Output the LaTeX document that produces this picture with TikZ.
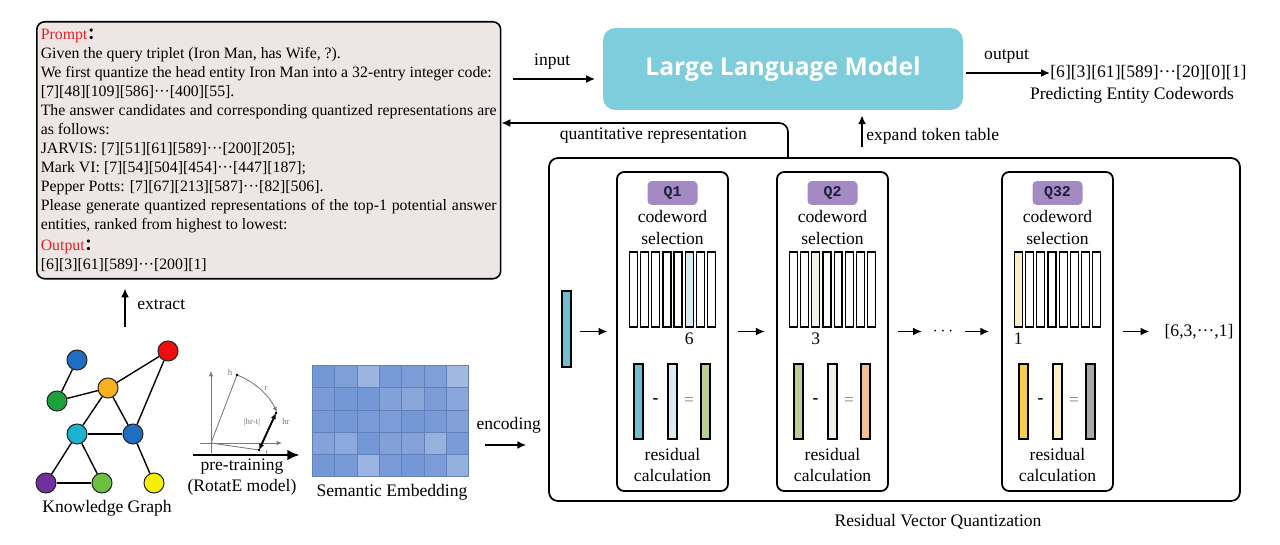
\documentclass[tikz,border=0pt]{standalone}
\usepackage{fontspec}
\setmainfont{Liberation Serif}
\setmonofont{Liberation Mono}
\newfontfamily\llmfont{Open Sans}
\newfontfamily\cjk{Noto Sans CJK SC}
\usetikzlibrary{arrows.meta, positioning, calc}

\definecolor{promptfill}{HTML}{EEE6E4}
\definecolor{promptred}{HTML}{E42228}
\definecolor{llmcyan}{HTML}{7ECDDC}
\definecolor{tagpurple}{HTML}{A48AC3}
\definecolor{tagtext}{HTML}{1E1E3C}
\definecolor{rvteal}{HTML}{6EBFD0}
\definecolor{rvlblue}{HTML}{D4ECF2}
\definecolor{rvgreen}{HTML}{B8CE95}
\definecolor{rvlgreen}{HTML}{EDF2E4}
\definecolor{rvorange}{HTML}{F4BE93}
\definecolor{rvyellow}{HTML}{F5CF4C}
\definecolor{rvlyellow}{HTML}{FBEFC8}
\definecolor{rvgray}{HTML}{A9A9A9}
\definecolor{embblue}{HTML}{7497D5}
\definecolor{embgrid}{HTML}{6381B8}
\definecolor{kgblue}{HTML}{1F6EC2}
\definecolor{kgred}{HTML}{F00D0D}
\definecolor{kgorange}{HTML}{F9B122}
\definecolor{kggreen}{HTML}{1CA23B}
\definecolor{kgcyan}{HTML}{1CB3D1}
\definecolor{kgpurple}{HTML}{7030A0}
\definecolor{kglgreen}{HTML}{6CC040}
\definecolor{kgyellow}{HTML}{F6F000}
\definecolor{rgray}{HTML}{7A7A7A}

\begin{document}
\begin{tikzpicture}[x=0.02cm, y=-0.02cm,
    lbl/.style={font=\fontsize{10}{12}\selectfont, inner sep=0pt},
    arr/.style={-{Latex[length=5pt,width=4.5pt]}, line width=0.9pt},
    promptbox/.style={draw, line width=0.9pt, rounded corners=4.5pt, fill=promptfill,
      text width=9.12cm, inner xsep=0.08cm, minimum height=5.14cm, align=justify,
      font=\fontsize{9}{10.77}\selectfont},
    llmbox/.style={fill=llmcyan, rounded corners=7pt, minimum width=7.2cm, minimum height=1.64cm,
      text=white, font=\llmfont\bfseries\fontsize{14}{16}\selectfont},
    kgnode/.style={circle, draw=black!85, line width=0.6pt, minimum size=0.4cm, inner sep=0pt},
    qbox/.style={draw, line width=1pt, rounded corners=4pt, minimum width=2.22cm, minimum height=6.38cm},
    qtag/.style={fill=tagpurple, rounded corners=2.5pt, minimum width=1cm, minimum height=0.48cm,
      inner sep=0pt, text=tagtext, font=\ttfamily\bfseries\fontsize{8.5}{10}\selectfont},
    codebar/.style={draw, line width=0.7pt, fill=white, minimum width=0.16cm, minimum height=1.5cm, inner sep=0pt},
    resbar/.style={draw, line width=0.7pt, minimum width=0.18cm, minimum height=1.5cm, inner sep=0pt},
    punkt/.style={circle, fill, inner sep=0.6pt},
    rlbl/.style={font=\fontsize{5}{6}\selectfont, text=rgray, inner sep=0pt},
  ]
  \useasboundingbox (0,0) rectangle (1280,544);

  % prompt
  \node[promptbox, anchor=north west] (prompt) at (36,21) {%
    {\color{promptred}Prompt}{\cjk\bfseries ：}\\
    Given the query triplet (Iron Man, has Wife, ?).\\
    We first quantize the head entity Iron Man into a 32-entry integer code:\\
    {[7]}[48][109][586]···[400][55].\\
    The answer candidates and corresponding quantized representations are\linebreak
    as follows:\\
    JARVIS: [7][51][61][589]···[200][205];\\
    Mark VI: [7][54][504][454]···[447][187];\\
    Pepper Potts: [7][67][213][587]···[82][506].\\
    Please generate quantized representations of the top-1 potential answer\linebreak
    entities, ranked from highest to lowest:\\[1.2pt]
    {\color{promptred}Output}{\cjk\bfseries ：}\\
    {[6]}[3][61][589]···[200][1]};

  % LLM and its in/out
  \node[llmbox] (llm) at (783,69) {Large Language Model};
  \coordinate (inend) at (603,79);
  \draw[arr, shorten <=0.24cm, shorten >=0.16cm] (prompt.east |- inend) -- (inend)
    node[lbl, midway, above=0.18cm] (inlbl) {input};

  \node[lbl, anchor=west] (pred) at (1050,73) {[6][3][61][589]···[20][0][1]};
  \node[lbl] (predlbl) at (1132,95) {Predicting Entity Codewords};
  \draw[arr, shorten <=0.06cm] (llm.east |- pred.west) -- (pred.west)
    node[lbl, midway, above=0.18cm] (outlbl) {output};

  % residual vector quantization
  \node[draw, line width=1pt, rounded corners=5pt, minimum width=13.82cm, minimum height=6.86cm] (rvq) at (894.5,329.5) {};
  \node[lbl] (rvqlbl) at (938,522) {Residual Vector Quantization};

  \coordinate (qrstart) at (788,158);
  \coordinate (qrbend) at (788,123);
  \draw[arr, rounded corners=5pt] (qrstart) -- (qrbend) -- (qrbend -| prompt.east)
    node[lbl, pos=0.47, below=0.08cm] (qrlbl) {quantitative representation};

  \coordinate (exstart) at (862,147);
  \draw[arr, shorten >=0.1cm] (exstart) -- (exstart |- llm.south);
  \node[lbl, anchor=west] (exlbl) at (866,136) {expand token table};

  \node[resbar, fill=rvteal, minimum height=1.52cm] (inbar) at (566.5,329) {};

  \foreach \i/\cx/\qname/\sel/\num/\ca/\cb/\cc in {1/672.5/Q1/5/6/rvteal/rvlblue/rvgreen,
      2/832.5/Q2/2/3/rvgreen/rvlgreen/rvorange, 3/1057.5/Q32/0/1/rvyellow/rvlyellow/rvgray}{
    \node[qbox] (q\i) at (\cx,331.5) {};
    \node[qtag] (tag\i) at (\cx,193) {\qname};
    \node[lbl, align=center] (cw\i) at (\cx,227.5) {codeword\\selection};
    \foreach \k in {0,...,7}
      \node[codebar] (cb\i\k) at (\cx-39.2+11.2*\k,289.5) {};
    \node[codebar, fill=\cb] (sel\i) at (\cx-39.2+11.2*\sel,289.5) {};
    \node[lbl] (num\i) at (\cx-39.2+11.2*\sel,339) {\num};
    \node[resbar, fill=\ca] (ra\i) at (\cx-34,401.5) {};
    \node[resbar, fill=\cb] (rb\i) at (\cx,401.5) {};
    \node[resbar, fill=\cc] (rc\i) at (\cx+33,401.5) {};
    \node[lbl, font=\fontsize{10}{12}\selectfont\bfseries] (mi\i) at (\cx-17,401.5) {-};
    \node[lbl, text=gray] (eq\i) at (\cx+16.5,401.5) {=};
    \node[lbl, align=center] (rl\i) at (\cx,465) {residual\\calculation};
  }

  \node[lbl] (dots) at (943,331.5) {$\cdots$};
  \node[lbl] (res) at (1199,331.5) {[6,3,···,1]};
  \draw[arr, shorten <=5pt, shorten >=5pt] (inbar.east |- q1.west) -- (q1.west);
  \draw[arr, shorten <=5pt, shorten >=6.5pt] (q1) -- (q2);
  \draw[arr, shorten <=5pt, shorten >=6pt] (q2) -- (dots);
  \draw[arr, shorten <=6.5pt, shorten >=6.8pt] (dots) -- (q3);
  \draw[arr, shorten <=5pt, shorten >=8.5pt] (q3) -- (res);

  % knowledge graph
  \node[kgnode, fill=kgblue] (kgb1) at (77,360) {};
  \node[kgnode, fill=kgred] (kgr) at (168,351) {};
  \node[kgnode, fill=kgorange] (kgo) at (108,388) {};
  \node[kgnode, fill=kggreen] (kgg) at (57,401) {};
  \node[kgnode, fill=kgcyan] (kgc) at (77,434) {};
  \node[kgnode, fill=kgblue] (kgb2) at (133,434) {};
  \node[kgnode, fill=kgpurple] (kgp) at (46,483) {};
  \node[kgnode, fill=kglgreen] (kgl) at (102,483) {};
  \node[kgnode, fill=kgyellow] (kgy) at (154,483) {};
  \foreach \a/\b in {kgb1/kgg, kgg/kgo, kgo/kgr, kgr/kgb2, kgo/kgc, kgo/kgb2,
      kgc/kgb2, kgc/kgp, kgc/kgl, kgp/kgl, kgb2/kgy}
    \draw[line width=0.8pt] (\a) -- (\b);
  \node[lbl] (kglbl) at (107,508) {Knowledge Graph};

  \coordinate (exbase) at (125,327);
  \draw[arr, shorten >=0.18cm] (exbase) -- (exbase |- prompt.south);
  \node[lbl, anchor=west] (extlbl) at (137,305) {extract};

  % RotatE sketch
  \coordinate (ro) at (211,443);
  \coordinate (rh) at (237,375);
  \coordinate (rhr) at (276,413);
  \coordinate (rt) at (259,450);
  \draw[rgray, line width=0.4pt, -{Latex[length=3pt,width=2.4pt]}] (211,453) -- (211,371);
  \draw[rgray, line width=0.4pt, -{Latex[length=3pt,width=2.4pt]}] (200,443) -- (282,443);
  \draw[rgray, line width=0.5pt] (ro) -- (rh);
  \draw[rgray, line width=0.5pt] (ro) -- (rt);
  \draw[rgray, line width=0.5pt, -{Latex[length=3pt,width=2.4pt]}] (rh) arc[start angle=69, end angle=25, radius=1.46cm];
  \draw[line width=1.1pt, {Latex[length=3.5pt,width=3pt]}-{Latex[length=3.5pt,width=3pt]}] (rt) -- (rhr);
  \node[punkt] (ph) at (rh) {};
  \node[punkt] (phr) at (rhr) {};
  \node[punkt] (pt) at (rt) {};
  \node[rlbl] at (230,372) {h};
  \node[rlbl] at (266,388) {r};
  \node[rlbl] at (286,421) {hr};
  \node[rlbl] at (252,422) {|hr-t|};
  \node[rlbl] at (267,453) {t};

  % embedding
  \node[minimum width=3.12cm, minimum height=2.22cm, inner sep=0pt] (emb) at (391,421.5) {};
  \foreach \r/\vals in {0/{100,92,72,98,95,92,68}, 1/{96,100,100,90,85,95,85},
      2/{98,100,96,95,100,97,90}, 3/{88,82,100,90,88,75,96}, 4/{100,97,72,96,100,95,76}}
    \foreach \p [count=\c from 0] in \vals
      \filldraw[fill=embblue!\p!white, draw=embgrid, line width=0.6pt]
        ([shift={(\c*22.3,\r*22.2)}]emb.north west) rectangle ++(22.3,22.2);
  \node[lbl] (emblbl) at (392,492) {Semantic Embedding};

  \coordinate (ptstart) at (193,455);
  \draw[line width=1.5pt, -{Latex[length=7pt,width=6pt]}, shorten >=0.26cm] (ptstart) -- (ptstart -| emb.west);
  \node[lbl, align=center] (ptlbl) at (242,477.5) {pre-training\\(RotatE model)};

  \coordinate (encpt) at (500,445);
  \draw[arr, shorten <=0.32cm, shorten >=0.44cm] (emb.east |- encpt) -- (encpt -| rvq.west)
    node[lbl, midway, above=0.22cm] (enclbl) {encoding};
\end{tikzpicture}
\end{document}
